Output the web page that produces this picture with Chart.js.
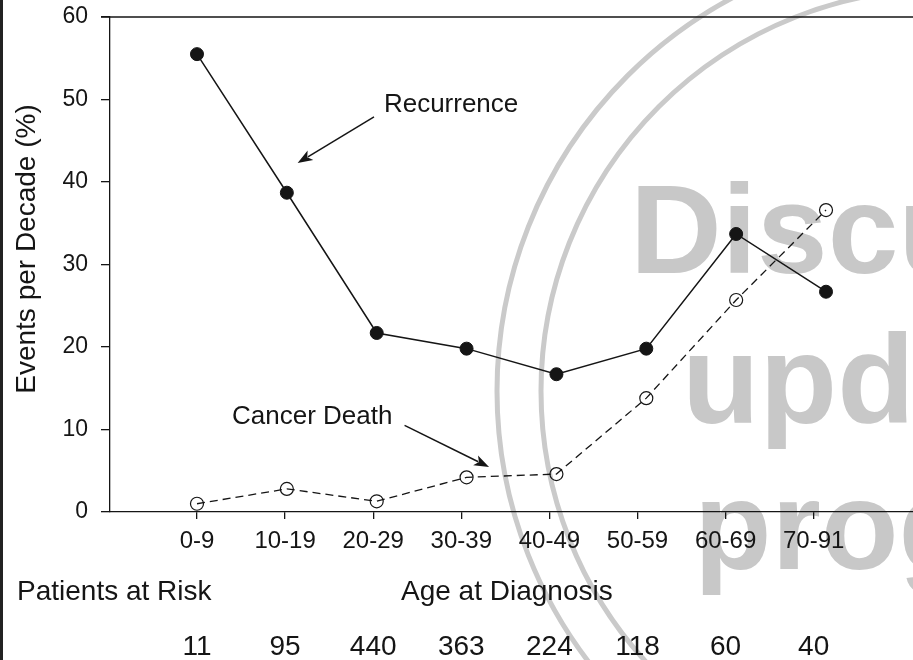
<!DOCTYPE html>
<html>
<head>
<meta charset="utf-8">
<script src="https://cdn.jsdelivr.net/npm/chart.js@4"></script>
<style>
html,body{margin:0;padding:0;background:#fff;}
#wrap{width:913px;height:660px;position:relative;}
</style>
</head>
<body>
<div id="wrap"><canvas id="c" width="913" height="660"></canvas></div>
<script>
// ---- data ----
const categories = ['0-9','10-19','20-29','30-39','40-49','50-59','60-69','70-91'];
const recurrence = [55.5, 38.7, 21.7, 19.8, 16.7, 19.8, 33.7, 26.7];
const cancerDeath = [1.0, 2.8, 1.3, 4.2, 4.6, 13.8, 25.7, 36.6];
const patientsAtRisk = [11, 95, 440, 363, 224, 118, 60, 40];
const yTicks = [0, 10, 20, 30, 40, 50, 60];

// ---- layout constants ----
const TICK_STEP = 0.9804;   // tick spacing relative to point spacing (as in the figure)
const INK = '#151515';
const FONT = 'Liberation Sans, Arial, sans-serif';

const ctxEl = document.getElementById('c');

const decor = {
  id: 'decor',
  beforeDraw(chart) {
    const {ctx, width, height} = chart;
    ctx.save();
    ctx.fillStyle = '#fff';
    ctx.fillRect(0, 0, width, height);
    // left border bar
    ctx.fillStyle = '#222';
    ctx.fillRect(0, 0, 3, height);
    // watermark rings
    ctx.strokeStyle = '#cacaca';
    ctx.lineWidth = 5;
    ctx.beginPath(); ctx.arc(943, 391, 446, 0, Math.PI * 2); ctx.stroke();
    ctx.beginPath(); ctx.arc(943, 391, 402, 0, Math.PI * 2); ctx.stroke();
    // watermark text
    ctx.fillStyle = '#c8c8c8';
    ctx.font = 'bold 127px ' + FONT;
    ctx.textBaseline = 'alphabetic';
    ctx.textAlign = 'left';
    ctx.fillText('Discu', 630, 273);
    ctx.fillText('upd', 682, 423);
    ctx.fillText('prog', 694, 569);
    ctx.restore();
  },
  afterDraw(chart) {
    const {ctx, chartArea} = chart;
    const xs = chart.scales.x, ys = chart.scales.y;
    ctx.save();
    // top frame line
    ctx.strokeStyle = INK;
    ctx.lineWidth = 1.3;
    ctx.beginPath();
    ctx.moveTo(chartArea.left - 9, chartArea.top);
    ctx.lineTo(chartArea.right, chartArea.top);
    ctx.stroke();

    ctx.fillStyle = INK;
    // y axis title
    ctx.save();
    ctx.translate(35, 249);
    ctx.rotate(-Math.PI / 2);
    ctx.font = '28px ' + FONT;
    ctx.textAlign = 'center';
    ctx.textBaseline = 'alphabetic';
    ctx.fillText('Events per Decade (%)', 0, 0);
    ctx.restore();

    // annotations
    ctx.font = '26px ' + FONT;
    ctx.textAlign = 'left';
    ctx.textBaseline = 'middle';
    ctx.fillText('Recurrence', xs.getPixelForValue(2.08), ys.getPixelForValue(49.3));
    ctx.fillText('Cancer Death', xs.getPixelForValue(0.39), ys.getPixelForValue(11.5));

    function arrow(x1, y1, x2, y2) {
      const ax = xs.getPixelForValue(x1), ay = ys.getPixelForValue(y1);
      const bx = xs.getPixelForValue(x2), by = ys.getPixelForValue(y2);
      const ang = Math.atan2(by - ay, bx - ax);
      const L = 15, W = 5.5;
      ctx.strokeStyle = INK;
      ctx.lineWidth = 1.5;
      ctx.beginPath();
      ctx.moveTo(ax, ay);
      ctx.lineTo(bx - Math.cos(ang) * L * 0.8, by - Math.sin(ang) * L * 0.8);
      ctx.stroke();
      ctx.beginPath();
      ctx.moveTo(bx, by);
      ctx.lineTo(bx - Math.cos(ang) * L - Math.sin(ang) * W, by - Math.sin(ang) * L + Math.cos(ang) * W);
      ctx.lineTo(bx - Math.cos(ang) * L * 0.75, by - Math.sin(ang) * L * 0.75);
      ctx.lineTo(bx - Math.cos(ang) * L + Math.sin(ang) * W, by - Math.sin(ang) * L - Math.cos(ang) * W);
      ctx.closePath();
      ctx.fill();
    }
    arrow(1.97, 47.9, 1.12, 42.3);
    arrow(2.31, 10.5, 3.25, 5.45);

    // bottom labels
    ctx.font = '28px ' + FONT;
    ctx.textBaseline = 'alphabetic';
    ctx.textAlign = 'left';
    ctx.fillText('Patients at Risk', 17, 600);
    ctx.fillText('Age at Diagnosis', 401, 600);
    ctx.textAlign = 'center';
    patientsAtRisk.forEach((n, i) => {
      ctx.fillText(String(n), xs.getPixelForValue(i * TICK_STEP), 655);
    });
    ctx.restore();
  }
};

new Chart(ctxEl, {
  type: 'line',
  data: {
    datasets: [
      {
        label: 'Recurrence',
        data: categories.map((c, i) => ({x: i, y: recurrence[i]})),
        borderColor: INK,
        borderWidth: 1.5,
        backgroundColor: INK,
        pointBackgroundColor: INK,
        pointBorderColor: INK,
        pointRadius: 6.5,
        pointBorderWidth: 1,
        tension: 0
      },
      {
        label: 'Cancer Death',
        data: categories.map((c, i) => ({x: i, y: cancerDeath[i]})),
        borderColor: INK,
        borderWidth: 1.3,
        borderDash: [8, 5],
        pointBackgroundColor: 'rgba(0,0,0,0)',
        pointBorderColor: INK,
        pointRadius: 6.5,
        pointBorderWidth: 1.2,
        tension: 0
      }
    ]
  },
  options: {
    responsive: false,
    animation: false,
    events: [],
    layout: {autoPadding: false, padding: {top: 17, right: 0, left: 0, bottom: 0}},
    plugins: {legend: {display: false}, tooltip: {enabled: false}},
    scales: {
      x: {
        type: 'linear',
        min: -0.968,
        max: 7.968,
        afterBuildTicks(scale) {
          scale.ticks = categories.map((c, i) => ({value: i * TICK_STEP}));
        },
        afterFit(scale) { scale.height = 148; scale.paddingLeft = 0; scale.paddingRight = 0; },
        ticks: {
          autoSkip: false,
          maxRotation: 0,
          padding: 8,
          color: INK,
          font: {family: FONT, size: 24},
          callback: (v, i) => categories[i]
        },
        grid: {drawOnChartArea: false, drawTicks: true, tickLength: 7, color: INK, lineWidth: 1.3},
        border: {display: true, color: INK, width: 1.3}
      },
      y: {
        type: 'linear',
        min: 0,
        max: 60,
        afterBuildTicks(scale) {
          scale.ticks = yTicks.map(v => ({value: v}));
        },
        afterFit(scale) { scale.width = 110; scale.paddingTop = 0; scale.paddingBottom = 0; },
        ticks: {
          padding: 13,
          color: INK,
          font: {family: FONT, size: 23},
          callback: v => String(v)
        },
        grid: {drawOnChartArea: false, drawTicks: true, tickLength: 9, color: INK, lineWidth: 1.3},
        border: {display: true, color: INK, width: 1.3}
      }
    }
  },
  plugins: [decor]
});
</script>
</body>
</html>
